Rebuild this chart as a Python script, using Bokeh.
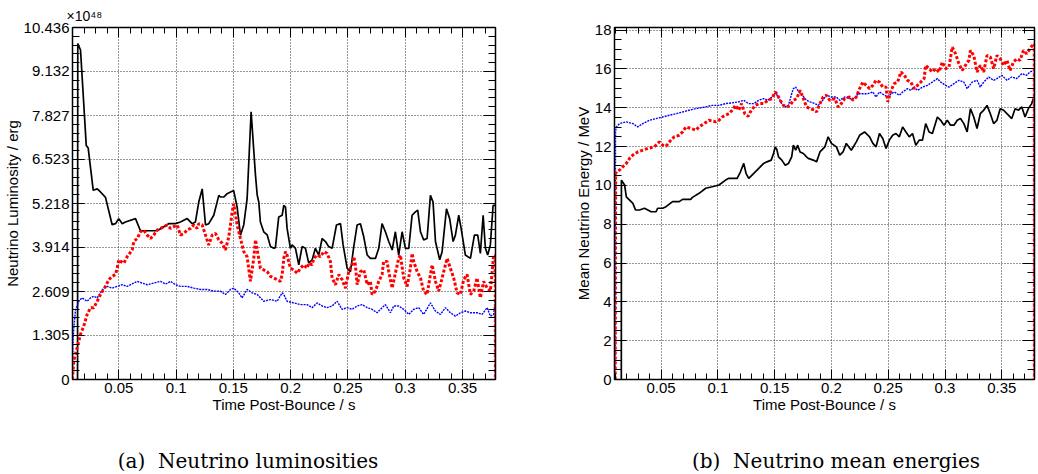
import numpy as np
from bokeh.plotting import figure
from bokeh.models import LinearAxis, FixedTicker, Range1d, Div, Spacer, CustomLabelingPolicy, Title
from bokeh.layouts import row, column
from bokeh.embed import file_html
from bokeh.resources import INLINE

# ---------------- data: (time post-bounce [s], value) ----------------
# Neutrino luminosity in units of 1e48 erg
lum_nue = [
    (0.0140, 0.0), (0.0142, 9.96), (0.0166, 9.77), (0.0216, 6.94), (0.0233, 6.86), (0.0277, 5.61),
    (0.0312, 5.65), (0.0340, 5.56), (0.0384, 5.40), (0.0442, 4.59), (0.0471, 4.62), (0.0500, 4.77),
    (0.0530, 4.62), (0.0558, 4.67), (0.0646, 4.77), (0.0689, 4.41), (0.0835, 4.41), (0.0893, 4.53),
    (0.0936, 4.62), (0.0995, 4.62), (0.1038, 4.67), (0.1097, 4.77), (0.1140, 4.62), (0.1169, 4.67),
    (0.1198, 5.26), (0.1228, 5.65), (0.1257, 4.58), (0.1285, 4.62), (0.1329, 4.87), (0.1373, 5.46),
    (0.1387, 5.41), (0.1416, 5.41), (0.1446, 5.51), (0.1475, 5.56), (0.1503, 5.60), (0.1533, 5.11),
    (0.1562, 4.28), (0.1591, 4.59), (0.1620, 5.36), (0.1655, 7.94), (0.1693, 6.06), (0.1708, 5.47),
    (0.1722, 5.26), (0.1736, 4.67), (0.1765, 4.38), (0.1795, 4.29), (0.1824, 3.94), (0.1853, 3.89),
    (0.1867, 3.91), (0.1896, 4.82), (0.1926, 4.87), (0.1940, 5.16), (0.1955, 5.11), (0.1969, 4.48),
    (0.1998, 3.89), (0.2013, 3.99), (0.2042, 3.89), (0.2071, 3.40), (0.2100, 3.94), (0.2129, 3.89),
    (0.2158, 3.45), (0.2188, 3.55), (0.2216, 3.89), (0.2245, 3.69), (0.2275, 4.18), (0.2304, 4.09),
    (0.2332, 3.94), (0.2362, 3.89), (0.2400, 4.58), (0.2435, 4.62), (0.2458, 3.99), (0.2493, 3.30),
    (0.2522, 3.20), (0.2551, 3.94), (0.2580, 4.58), (0.2609, 4.62), (0.2638, 4.23), (0.2668, 3.69),
    (0.2696, 3.59), (0.2740, 3.59), (0.2769, 3.89), (0.2798, 4.62), (0.2827, 4.38), (0.2856, 4.09),
    (0.2886, 3.84), (0.2914, 4.38), (0.2943, 3.69), (0.2973, 4.38), (0.3002, 3.89), (0.3031, 3.89),
    (0.3060, 4.87), (0.3089, 4.97), (0.3109, 5.02), (0.3133, 4.38), (0.3161, 4.14), (0.3191, 4.18),
    (0.3220, 5.46), (0.3243, 5.26), (0.3264, 4.09), (0.3301, 3.55), (0.3322, 3.79), (0.3360, 5.06),
    (0.3388, 4.77), (0.3418, 4.09), (0.3438, 4.28), (0.3467, 4.87), (0.3488, 4.48), (0.3525, 3.69),
    (0.3569, 3.59), (0.3604, 4.28), (0.3633, 4.28), (0.3656, 3.74), (0.3680, 4.87), (0.3700, 3.89),
    (0.3720, 3.69), (0.3743, 3.99), (0.3767, 5.16), (0.3787, 5.16),
]
lum_anue = [
    (0.0096, 0.0), (0.0097, 0.07), (0.0107, 0.56), (0.0137, 0.95), (0.0166, 1.34), (0.0195, 1.59),
    (0.0224, 1.93), (0.0253, 2.13), (0.0282, 2.13), (0.0312, 2.32), (0.0340, 2.52), (0.0384, 2.76),
    (0.0413, 2.96), (0.0442, 3.06), (0.0471, 3.11), (0.0486, 3.30), (0.0500, 3.55), (0.0515, 3.50),
    (0.0544, 3.45), (0.0573, 3.64), (0.0617, 3.84), (0.0631, 4.09), (0.0661, 4.18), (0.0689, 4.38),
    (0.0718, 4.43), (0.0748, 4.28), (0.0777, 4.18), (0.0805, 4.28), (0.0835, 4.43), (0.0864, 4.48),
    (0.0893, 4.53), (0.0922, 4.58), (0.0951, 4.48), (0.0980, 4.53), (0.1010, 4.58), (0.1038, 4.28),
    (0.1067, 4.33), (0.1097, 4.43), (0.1126, 4.48), (0.1154, 4.58), (0.1184, 4.48), (0.1198, 4.62),
    (0.1228, 4.58), (0.1257, 4.28), (0.1285, 3.99), (0.1315, 4.28), (0.1344, 4.33), (0.1373, 4.14),
    (0.1402, 4.04), (0.1431, 3.84), (0.1460, 4.23), (0.1490, 4.97), (0.1503, 5.21), (0.1533, 4.58),
    (0.1562, 4.18), (0.1591, 3.79), (0.1620, 3.64), (0.1649, 2.91), (0.1678, 3.59), (0.1693, 4.14),
    (0.1736, 3.30), (0.1765, 3.25), (0.1795, 3.20), (0.1824, 3.06), (0.1853, 3.01), (0.1882, 2.96),
    (0.1911, 2.91), (0.1926, 3.11), (0.1940, 3.59), (0.1955, 3.79), (0.1969, 3.69), (0.1998, 3.30),
    (0.2027, 3.25), (0.2057, 3.15), (0.2086, 3.30), (0.2114, 3.40), (0.2144, 3.30), (0.2158, 3.45),
    (0.2188, 3.40), (0.2202, 3.59), (0.2231, 3.69), (0.2260, 3.64), (0.2289, 3.79), (0.2318, 3.74),
    (0.2347, 3.50), (0.2362, 3.01), (0.2391, 2.81), (0.2420, 3.11), (0.2449, 2.96), (0.2478, 2.71),
    (0.2507, 3.20), (0.2537, 3.40), (0.2551, 3.64), (0.2565, 3.40), (0.2580, 2.81), (0.2609, 3.20),
    (0.2638, 3.25), (0.2668, 2.81), (0.2696, 2.91), (0.2711, 2.52), (0.2740, 2.62), (0.2769, 2.91),
    (0.2798, 3.11), (0.2812, 3.50), (0.2842, 3.50), (0.2856, 3.20), (0.2886, 2.71), (0.2914, 3.15),
    (0.2943, 3.59), (0.2958, 3.69), (0.2987, 3.01), (0.3017, 2.76), (0.3045, 3.30), (0.3060, 3.74),
    (0.3074, 3.50), (0.3104, 3.20), (0.3133, 3.01), (0.3161, 2.62), (0.3191, 2.52), (0.3220, 3.11),
    (0.3235, 3.40), (0.3264, 2.91), (0.3292, 2.62), (0.3322, 3.01), (0.3351, 3.40), (0.3366, 3.59),
    (0.3394, 3.30), (0.3423, 3.01), (0.3453, 2.57), (0.3482, 2.52), (0.3510, 2.96), (0.3540, 3.11),
    (0.3569, 2.52), (0.3598, 2.62), (0.3627, 3.01), (0.3656, 2.42), (0.3685, 2.91), (0.3715, 2.71),
    (0.3743, 2.62), (0.3772, 3.69), (0.3786, 3.69), (0.3787, 0.0),
]
lum_nux = [
    (0.0096, 0.0), (0.0099, 1.00), (0.0107, 1.50), (0.0122, 2.05), (0.0151, 2.32), (0.0180, 2.42),
    (0.0224, 2.32), (0.0253, 2.42), (0.0282, 2.47), (0.0312, 2.42), (0.0340, 2.57), (0.0369, 2.71),
    (0.0399, 2.76), (0.0442, 2.71), (0.0486, 2.76), (0.0530, 2.81), (0.0573, 2.76), (0.0631, 2.86),
    (0.0661, 2.91), (0.0704, 2.86), (0.0748, 2.81), (0.0805, 2.86), (0.0864, 2.91), (0.0908, 2.83),
    (0.0951, 2.91), (0.0995, 2.81), (0.1038, 2.76), (0.1097, 2.76), (0.1154, 2.71), (0.1213, 2.67),
    (0.1271, 2.67), (0.1329, 2.62), (0.1387, 2.62), (0.1431, 2.52), (0.1475, 2.67), (0.1503, 2.71),
    (0.1547, 2.57), (0.1576, 2.42), (0.1620, 2.67), (0.1664, 2.57), (0.1708, 2.52), (0.1765, 2.32),
    (0.1824, 2.37), (0.1882, 2.32), (0.1926, 2.57), (0.1940, 2.52), (0.1969, 2.32), (0.2027, 2.27),
    (0.2086, 2.22), (0.2144, 2.22), (0.2188, 2.13), (0.2231, 2.27), (0.2275, 2.18), (0.2318, 2.13),
    (0.2362, 2.18), (0.2406, 2.32), (0.2449, 2.08), (0.2493, 2.13), (0.2537, 2.08), (0.2580, 2.18),
    (0.2624, 2.22), (0.2668, 2.13), (0.2711, 2.08), (0.2755, 1.98), (0.2798, 2.13), (0.2827, 2.22),
    (0.2871, 1.98), (0.2900, 2.18), (0.2943, 2.18), (0.2987, 2.08), (0.3031, 1.93), (0.3074, 2.08),
    (0.3118, 2.13), (0.3161, 1.93), (0.3220, 2.27), (0.3264, 2.03), (0.3307, 1.93), (0.3351, 2.13),
    (0.3394, 1.98), (0.3438, 1.88), (0.3482, 1.98), (0.3525, 2.03), (0.3569, 1.98), (0.3627, 1.98),
    (0.3671, 1.93), (0.3715, 2.13), (0.3743, 1.88), (0.3772, 1.93), (0.3786, 2.32), (0.3787, 0.0),
]

# Mean neutrino energy in MeV
en_nue = [
    (0.0150, 0.0), (0.0151, 10.27), (0.0179, 10.02), (0.0194, 9.41), (0.0223, 9.24), (0.0252, 9.07),
    (0.0275, 8.73), (0.0310, 8.73), (0.0354, 8.82), (0.0413, 8.64), (0.0456, 8.64), (0.0470, 8.82),
    (0.0514, 8.82), (0.0544, 8.90), (0.0601, 9.16), (0.0660, 9.16), (0.0689, 9.28), (0.0762, 9.28),
    (0.0776, 9.38), (0.0835, 9.59), (0.0893, 9.85), (0.0951, 9.93), (0.1010, 10.02), (0.1068, 10.27),
    (0.1097, 10.36), (0.1170, 10.36), (0.1199, 10.70), (0.1228, 11.13), (0.1248, 10.62), (0.1272, 10.36),
    (0.1301, 10.53), (0.1360, 10.87), (0.1403, 11.13), (0.1432, 11.21), (0.1470, 11.30), (0.1490, 11.64),
    (0.1505, 11.98), (0.1519, 11.85), (0.1534, 11.47), (0.1563, 11.30), (0.1593, 11.04), (0.1622, 11.13),
    (0.1650, 11.47), (0.1665, 12.07), (0.1685, 11.81), (0.1703, 12.07), (0.1724, 11.72), (0.1753, 11.64),
    (0.1781, 11.47), (0.1796, 11.39), (0.1840, 11.30), (0.1869, 11.21), (0.1899, 11.72), (0.1942, 11.98),
    (0.1971, 12.50), (0.2000, 12.16), (0.2044, 11.98), (0.2073, 11.56), (0.2102, 11.72), (0.2131, 12.16),
    (0.2175, 11.81), (0.2219, 12.24), (0.2248, 12.58), (0.2292, 12.75), (0.2336, 12.50), (0.2365, 12.16),
    (0.2393, 11.98), (0.2423, 12.67), (0.2452, 12.41), (0.2481, 11.90), (0.2510, 12.33), (0.2539, 12.58),
    (0.2568, 12.67), (0.2598, 12.50), (0.2627, 13.01), (0.2656, 12.75), (0.2685, 12.50), (0.2714, 12.67),
    (0.2743, 12.07), (0.2773, 12.33), (0.2802, 12.33), (0.2830, 13.18), (0.2860, 12.75), (0.2889, 12.67),
    (0.2933, 13.52), (0.2962, 13.35), (0.2991, 13.10), (0.3020, 13.35), (0.3049, 13.10), (0.3079, 13.10),
    (0.3108, 13.35), (0.3136, 13.44), (0.3166, 13.18), (0.3195, 12.75), (0.3224, 13.95), (0.3253, 13.52),
    (0.3282, 12.93), (0.3311, 13.69), (0.3341, 13.87), (0.3370, 14.12), (0.3399, 13.69), (0.3428, 13.18),
    (0.3457, 13.35), (0.3486, 13.95), (0.3516, 13.87), (0.3545, 13.69), (0.3588, 13.44), (0.3617, 13.95),
    (0.3647, 13.87), (0.3676, 14.04), (0.3705, 13.52), (0.3734, 13.95), (0.3763, 14.21), (0.3778, 14.47),
]
en_anue = [
    (0.0096, 0.0), (0.0100, 10.60), (0.0107, 10.70), (0.0135, 10.79), (0.0164, 10.96), (0.0194, 11.13),
    (0.0223, 11.39), (0.0252, 11.56), (0.0295, 11.72), (0.0339, 11.81), (0.0383, 11.90), (0.0441, 11.98),
    (0.0470, 12.16), (0.0485, 12.24), (0.0514, 12.07), (0.0544, 12.02), (0.0573, 12.24), (0.0616, 12.50),
    (0.0660, 12.58), (0.0689, 12.75), (0.0719, 13.01), (0.0762, 12.93), (0.0806, 12.84), (0.0835, 13.01),
    (0.0878, 13.18), (0.0922, 13.35), (0.0981, 13.27), (0.1010, 13.35), (0.1038, 13.52), (0.1068, 13.61),
    (0.1097, 13.69), (0.1126, 13.87), (0.1156, 14.12), (0.1184, 13.87), (0.1208, 14.21), (0.1237, 13.69),
    (0.1266, 13.56), (0.1295, 13.87), (0.1330, 14.12), (0.1360, 14.21), (0.1403, 14.21), (0.1441, 14.38),
    (0.1476, 14.47), (0.1505, 14.81), (0.1519, 14.72), (0.1549, 14.38), (0.1578, 14.12), (0.1607, 14.04),
    (0.1636, 14.12), (0.1665, 14.38), (0.1694, 14.47), (0.1724, 14.89), (0.1753, 14.47), (0.1781, 14.04),
    (0.1811, 13.95), (0.1855, 13.87), (0.1869, 13.78), (0.1899, 14.21), (0.1927, 14.55), (0.1956, 14.64),
    (0.1986, 14.38), (0.2030, 14.47), (0.2059, 14.04), (0.2087, 14.21), (0.2117, 14.47), (0.2161, 14.55),
    (0.2190, 14.38), (0.2219, 14.55), (0.2248, 14.98), (0.2277, 15.32), (0.2306, 15.15), (0.2336, 14.98),
    (0.2365, 15.15), (0.2393, 15.41), (0.2423, 15.32), (0.2452, 15.06), (0.2481, 15.06), (0.2496, 14.30),
    (0.2525, 14.89), (0.2554, 15.24), (0.2583, 15.32), (0.2612, 15.84), (0.2642, 15.67), (0.2670, 15.41),
    (0.2699, 15.32), (0.2729, 14.98), (0.2758, 15.15), (0.2787, 15.32), (0.2816, 15.50), (0.2830, 16.18),
    (0.2860, 16.01), (0.2889, 15.84), (0.2918, 16.01), (0.2948, 15.84), (0.2976, 16.35), (0.3005, 16.01),
    (0.3035, 16.09), (0.3064, 17.12), (0.3093, 16.78), (0.3122, 16.27), (0.3151, 15.92), (0.3180, 16.18),
    (0.3210, 16.44), (0.3224, 16.95), (0.3253, 16.69), (0.3282, 15.84), (0.3311, 16.18), (0.3341, 15.84),
    (0.3370, 16.69), (0.3399, 16.61), (0.3428, 16.01), (0.3457, 16.69), (0.3486, 16.52), (0.3516, 16.18),
    (0.3545, 16.44), (0.3573, 15.92), (0.3603, 16.35), (0.3632, 16.52), (0.3661, 16.44), (0.3691, 16.95),
    (0.3719, 16.78), (0.3748, 17.03), (0.3778, 17.29), (0.3786, 17.29), (0.3787, 0.0),
]
en_nux = [
    (0.0096, 0.0), (0.0099, 12.80), (0.0107, 13.01), (0.0135, 13.18), (0.0194, 13.27), (0.0252, 13.18),
    (0.0295, 13.01), (0.0339, 13.18), (0.0398, 13.35), (0.0456, 13.44), (0.0514, 13.52), (0.0573, 13.61),
    (0.0631, 13.69), (0.0689, 13.78), (0.0747, 13.87), (0.0806, 13.95), (0.0893, 14.04), (0.0951, 14.12),
    (0.1010, 14.12), (0.1068, 14.21), (0.1126, 14.25), (0.1184, 14.30), (0.1228, 14.38), (0.1272, 14.21),
    (0.1316, 14.21), (0.1360, 14.38), (0.1403, 14.47), (0.1441, 14.38), (0.1476, 14.55), (0.1505, 14.76),
    (0.1534, 14.55), (0.1563, 14.21), (0.1593, 14.04), (0.1622, 14.12), (0.1650, 14.72), (0.1665, 14.98),
    (0.1685, 15.06), (0.1713, 14.81), (0.1743, 14.64), (0.1781, 14.38), (0.1811, 14.30), (0.1855, 14.21),
    (0.1884, 14.12), (0.1913, 14.30), (0.1956, 14.64), (0.2000, 14.55), (0.2044, 14.55), (0.2073, 14.38),
    (0.2117, 14.55), (0.2161, 14.47), (0.2205, 14.47), (0.2233, 14.72), (0.2277, 14.72), (0.2321, 14.72),
    (0.2365, 14.81), (0.2393, 14.55), (0.2423, 14.81), (0.2467, 14.64), (0.2496, 14.55), (0.2525, 14.72),
    (0.2554, 14.81), (0.2598, 14.64), (0.2627, 14.81), (0.2670, 14.98), (0.2699, 14.89), (0.2729, 15.06),
    (0.2758, 14.89), (0.2802, 15.06), (0.2845, 15.15), (0.2889, 15.32), (0.2933, 15.50), (0.2962, 15.32),
    (0.3005, 15.15), (0.3035, 15.06), (0.3079, 15.24), (0.3122, 15.41), (0.3166, 15.32), (0.3195, 14.98),
    (0.3239, 15.32), (0.3282, 15.41), (0.3311, 15.06), (0.3341, 15.32), (0.3385, 15.58), (0.3428, 15.41),
    (0.3457, 15.50), (0.3501, 15.67), (0.3545, 15.41), (0.3588, 15.58), (0.3632, 15.50), (0.3676, 15.75),
    (0.3719, 15.67), (0.3748, 15.84), (0.3778, 15.92), (0.3786, 15.92), (0.3787, 0.0),
]

# ---------------- axes / ticks / texts ----------------
time_ticks = [0.05, 0.1, 0.15, 0.2, 0.25, 0.3, 0.35]
time_tick_labels = ["0.05", "0.1", "0.15", "0.2", "0.25", "0.3", "0.35"]
lum_ticks = [0.0, 1.305, 2.609, 3.914, 5.218, 6.523, 7.827, 9.132, 10.436]
lum_tick_labels = ["0", "1.305", "2.609", "3.914", "5.218", "6.523", "7.827", "9.132", "10.436"]
energy_ticks = [0, 2, 4, 6, 8, 10, 12, 14, 16, 18]
energy_tick_labels = ["0", "2", "4", "6", "8", "10", "12", "14", "16", "18"]

x_label = "Time Post-Bounce / s"
y_label_lum = "Neutrino Luminosity / erg"
y_label_en = "Mean Neutrino Energy / MeV"
caption_lum = "(a)&nbsp;&nbsp;Neutrino luminosities"
caption_en = "(b)&nbsp;&nbsp;Neutrino mean energies"
exponent_text = "\u00d710\u2074\u2078"

SANS = "Liberation Sans"
SERIF = "DejaVu Serif"
TICK_FS = "15px"
TITLE_FS = "15px"

time_minor = list(np.round(np.arange(0.01, 0.3801, 0.01), 4))
lum_minor = list(np.linspace(0, lum_ticks[-1], 41))
energy_minor = list(np.arange(0, 18.01, 0.5))

NO_LABELS = CustomLabelingPolicy(code="const all = [...indices]; for (const i of all) { indices.unset(i) } return indices")


def style_axis(ax, ticks, labels, minor, show_labels, maj_in, min_in):
    ax.ticker = FixedTicker(ticks=ticks, minor_ticks=minor)
    ax.axis_line_color = "black"
    ax.axis_line_width = 1
    ax.major_tick_line_color = "black"
    ax.minor_tick_line_color = "black"
    ax.major_tick_in = maj_in
    ax.major_tick_out = 0
    ax.minor_tick_in = min_in
    ax.minor_tick_out = 0
    if show_labels:
        ax.major_label_overrides = {t: l for t, l in zip(ticks, labels)}
        ax.major_label_text_font = SANS
        ax.major_label_text_font_size = TICK_FS
        ax.major_label_text_color = "black"
        ax.major_label_standoff = 3
        ax.axis_label_text_font = SANS
        ax.axis_label_text_font_size = TITLE_FS
        ax.axis_label_text_font_style = "normal"
        ax.axis_label_text_color = "black"
        ax.axis_label_standoff = 0
    else:
        ax.major_label_policy = NO_LABELS
        ax.major_label_text_font_size = "1px"
        ax.major_label_standoff = 0
        ax.axis_label_standoff = 0
        ax.axis_label = None


def make_panel(width, height, x_rng, y_rng, y_ticks, y_labels, y_minor, y_title, borders):
    bl, br, bt, bb = borders
    p = figure(width=width, height=height, x_range=Range1d(*x_rng), y_range=Range1d(*y_rng),
               output_backend="svg", toolbar_location=None,
               min_border_left=bl, min_border_right=br, min_border_top=bt, min_border_bottom=bb,
               x_axis_label=x_label, y_axis_label=y_title)
    p.background_fill_color = "white"
    p.border_fill_color = "white"
    p.outline_line_color = "black"
    p.outline_line_width = 1.5
    style_axis(p.xaxis[0], time_ticks, time_tick_labels, time_minor, True, 10, 6)
    style_axis(p.yaxis[0], y_ticks, y_labels, y_minor, True, 12, 7)
    top = LinearAxis()
    style_axis(top, time_ticks, time_tick_labels, time_minor, False, 10, 6)
    p.add_layout(top, "above")
    right = LinearAxis()
    style_axis(right, y_ticks, y_labels, y_minor, False, 12, 7)
    p.add_layout(right, "right")
    for g, tk in ((p.xgrid[0], time_ticks), (p.ygrid[0], y_ticks)):
        g.ticker = FixedTicker(ticks=tk)
        g.grid_line_color = "#333333"
        g.grid_line_dash = "1 2"
        g.grid_line_width = 1
    return p


def add_curves(p, black, red, blue):
    t, v = zip(*black)
    p.line(list(t), list(v), line_color="black", line_width=1.7)
    t, v = zip(*blue)
    p.line(list(t), list(v), line_color="blue", line_width=1.4, line_dash="2 1")
    t, v = zip(*red)
    p.line(list(t), list(v), line_color="red", line_width=3, line_dash="3 2")


# page origin at (0, 0); plots 0..451, captions 451..471
p1 = make_panel(545, 451, (0.0096, 0.3788), (0.0, 10.436), lum_ticks, lum_tick_labels, lum_minor,
                y_label_lum, (72, 50, 24, 72))
add_curves(p1, lum_nue, lum_anue, lum_nux)
p1.add_layout(Title(text=exponent_text, align="left", offset=-6, standoff=0,
                    text_font=SANS, text_font_size="14px", text_font_style="normal",
                    text_color="black"), "above")

p2 = make_panel(493, 451, (0.0090, 0.3788), (0.0, 18.13), energy_ticks, energy_tick_labels, energy_minor,
                y_label_en, (69, 1, 27, 71))
add_curves(p2, en_nue, en_anue, en_nux)

cap_a = Div(text=(f'<div style="width:496px; text-align:center; font-family:\'{SERIF}\'; font-size:20px; '
                  f'line-height:20px; color:black; white-space:nowrap">{caption_lum}</div>'),
            width=496, height=20, margin=0)
cap_b = Div(text=(f'<div style="width:300px; text-align:center; font-family:\'{SERIF}\'; font-size:20px; '
                  f'line-height:20px; color:black; white-space:nowrap">{caption_en}</div>'),
            width=300, height=20, margin=0)

layout = column(row(p1, p2), row(cap_a, Spacer(width=190, height=20, margin=0), cap_b))
open("out.html", "w").write(file_html(layout, INLINE))
